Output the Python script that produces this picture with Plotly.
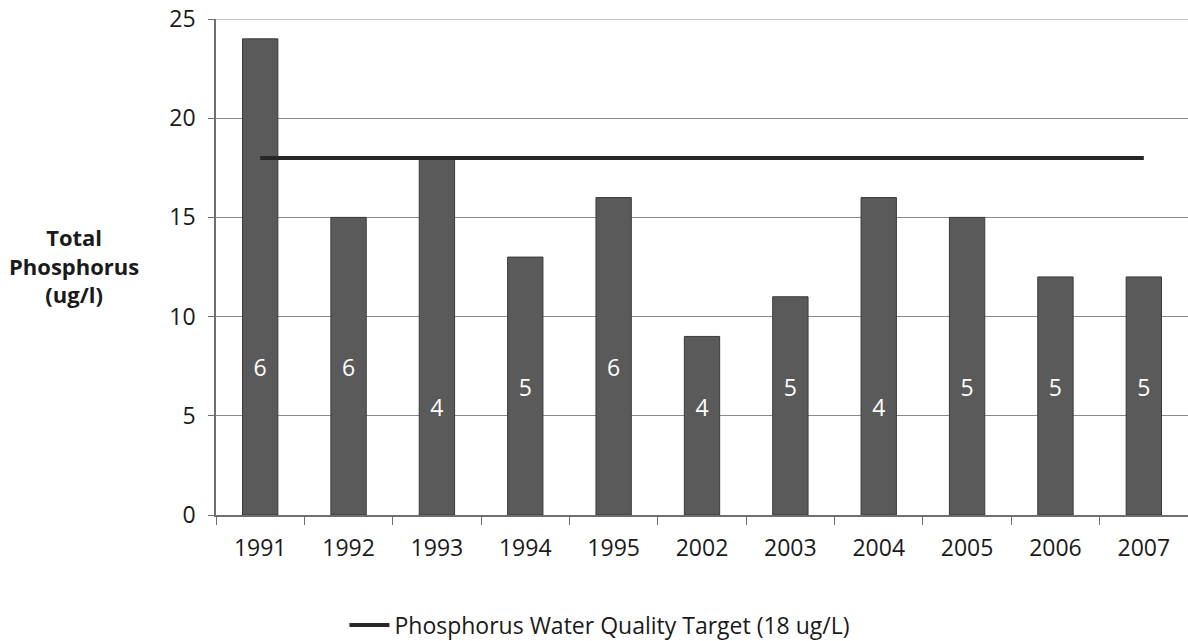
import plotly.graph_objects as go

years = ["1991", "1992", "1993", "1994", "1995", "2002", "2003", "2004", "2005", "2006", "2007"]
total_phosphorus = [24, 15, 18, 13, 16, 9, 11, 16, 15, 12, 12]
sample_counts = [6, 6, 4, 5, 6, 4, 5, 4, 5, 5, 5]
target_value = 18
y_ticks = [0, 5, 10, 15, 20, 25]

FONT = "Open Sans, Liberation Sans, sans-serif"
label_offset = 1.3  # labels sit just above the (hidden) sample-count level
GRID = "#8a8a8a"

W, H = 1188, 641

fig = go.Figure()
fig.add_trace(go.Bar(
    x=years, y=total_phosphorus,
    marker=dict(color="#5a5a5a", line=dict(color="#3a3a3a", width=1)),
    showlegend=False, hoverinfo="x+y",
))
fig.add_trace(go.Scatter(
    x=years, y=[n + label_offset for n in sample_counts],
    mode="text", text=[str(n) for n in sample_counts],
    textfont=dict(color="white", size=23, family=FONT),
    showlegend=False, hoverinfo="skip", cliponaxis=False,
))
fig.add_trace(go.Scatter(
    x=[years[0], years[-1]], y=[target_value, target_value],
    mode="lines", line=dict(color="#262626", width=4),
    name="Phosphorus Water Quality Target (18 ug/L)",
))

y_max = max(y_ticks)
fig.update_layout(
    width=W, height=H,
    margin=dict(l=216, r=0, t=19, b=126, autoexpand=False),
    plot_bgcolor="white", paper_bgcolor="white",
    bargap=0.6,
    font=dict(family=FONT, size=23, color="#1a1a1a"),
    showlegend=True,
    legend=dict(orientation="h", x=0.395, xanchor="center",
                yref="container", y=16 / H, yanchor="middle",
                font=dict(size=23, family=FONT, color="#1a1a1a"), itemwidth=40,
                bgcolor="rgba(0,0,0,0)"),
    xaxis=dict(type="category", range=[-0.5, 10.5], showgrid=False, showline=True,
               linecolor="#6e6e6e", linewidth=1.5,
               ticks="outside", tickson="boundaries", ticklen=8, tickcolor="#6e6e6e",
               tickfont=dict(size=23, family=FONT, color="#1a1a1a"), ticklabelstandoff=12),
    yaxis=dict(range=[0, y_max], tickvals=y_ticks, showgrid=True, gridcolor=GRID, gridwidth=1,
               showline=True, linecolor="#6e6e6e", linewidth=1.5, ticks="outside", ticklen=6,
               tickcolor="#6e6e6e", zeroline=False, ticklabeloverflow="allow",
               tickfont=dict(size=23, family=FONT, color="#1a1a1a"), ticklabelstandoff=8),
    shapes=[dict(type="line", xref="paper", yref="y", x0=0, x1=1, y0=y_max, y1=y_max,
                 line=dict(color=GRID, width=1), layer="below")],
    annotations=[dict(
        text="<b>Total<br>Phosphorus<br>(ug/l)</b>", xref="paper", yref="paper",
        x=-(216 - 74) / 972, y=(515 - 265) / 496, xanchor="center", yanchor="middle",
        showarrow=False, font=dict(size=22, family=FONT, color="#1a1a1a"), align="center",
    )],
)

fig.write_html("out.html", config={"displayModeBar": False},
               post_script="document.body.style.margin='0';document.body.style.overflow='hidden';")
